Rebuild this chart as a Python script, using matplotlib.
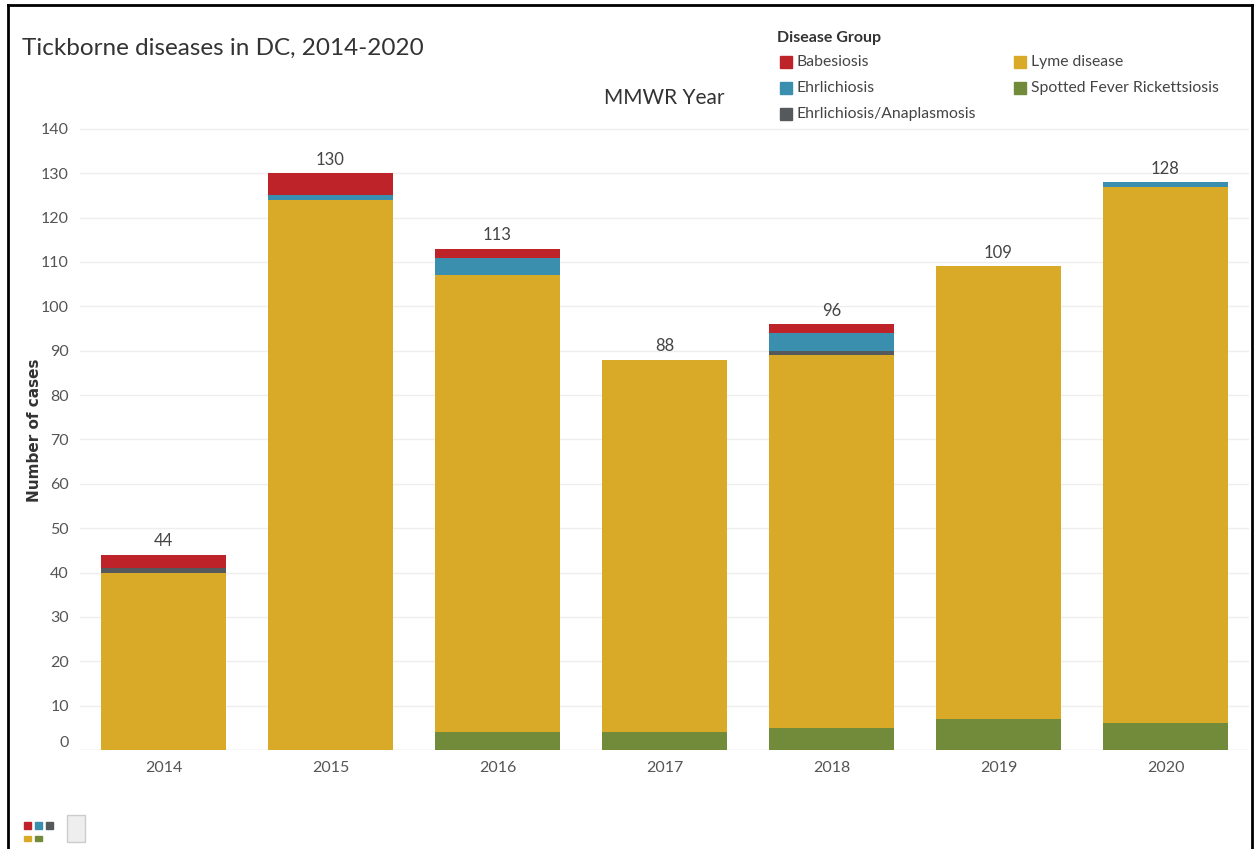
import numpy as np
import matplotlib.pyplot as plt
from matplotlib.patches import Rectangle

plt.rcParams['font.family'] = ['Lato', 'DejaVu Sans']

years = ["2014", "2015", "2016", "2017", "2018", "2019", "2020"]
spotted = [0, 0, 4, 4, 5, 7, 6]
lyme = [40, 124, 103, 84, 84, 102, 121]
ehr_ana = [1, 0, 0, 0, 1, 0, 0]
ehrlichiosis = [0, 1, 4, 0, 4, 0, 1]
babesiosis = [3, 5, 2, 0, 2, 0, 0]

colors = {
    "Babesiosis": "#BE2329",
    "Ehrlichiosis": "#3A8FAF",
    "Ehrlichiosis/Anaplasmosis": "#55595C",
    "Lyme disease": "#D9AA28",
    "Spotted Fever Rickettsiosis": "#718B3A",
}
stack = [
    ("Spotted Fever Rickettsiosis", spotted),
    ("Lyme disease", lyme),
    ("Ehrlichiosis/Anaplasmosis", ehr_ana),
    ("Ehrlichiosis", ehrlichiosis),
    ("Babesiosis", babesiosis),
]

W, H = 1257, 849
fig = plt.figure(figsize=(W / 100, H / 100), dpi=100)
ax = fig.add_axes([80 / W, 1 - 750 / H, (1249 - 80) / W, (750 - 120) / H])

x = np.arange(len(years))
bottom = np.zeros(len(years))
for name, vals in stack:
    vals = np.array(vals, dtype=float)
    ax.bar(x, vals, 0.75, bottom=bottom, color=colors[name], edgecolor="none", zorder=2)
    bottom += vals

for xi, tot in zip(x, bottom):
    ax.text(xi, tot + 1.2, f"{int(tot)}", ha="center", va="bottom", fontsize=12, color="#444444")

ax.set_xlim(-0.5, len(years) - 0.5)
ax.set_ylim(0, 142)
ax.set_yticks(np.arange(0, 141, 10))
ax.set_yticklabels([str(v) for v in range(0, 141, 10)], fontsize=11.5, color="#555555")
ax.get_yticklabels()[0].set_va("bottom")
ax.set_xticks(x)
ax.set_xticklabels(years, fontsize=11.5, color="#555555")
ax.tick_params(length=0, pad=8)
ax.grid(axis="y", color="#EEEEEE", linewidth=1, zorder=0)
for s in ax.spines.values():
    s.set_visible(False)
ax.axhline(0, color="#E8E8E8", linewidth=1, zorder=1)

fig.text(35 / W, 1 - 430 / H, "Number of cases", fontsize=11, fontweight="bold", color="#333333",
         rotation=90, ha="center", va="center", family="DejaVu Sans")
fig.text(22 / W, 1 - 48 / H, "Tickborne diseases in DC, 2014-2020", fontsize=17.5, color="#333333",
         va="center", ha="left")
fig.text(664 / W, 1 - 98 / H, "MMWR Year", fontsize=15, color="#333333", va="center", ha="center")

# legend
fig.text(777 / W, 1 - 38 / H, "Disease Group", fontsize=11.5, fontweight="bold", color="#333333",
         va="center")
leg_items = [
    ("Babesiosis", 780, 62), ("Ehrlichiosis", 780, 88), ("Ehrlichiosis/Anaplasmosis", 780, 114),
    ("Lyme disease", 1014, 62), ("Spotted Fever Rickettsiosis", 1014, 88),
]
for name, lx, ly in leg_items:
    fig.patches.append(Rectangle((lx / W, 1 - (ly + 6) / H), 12 / W, 12 / H, transform=fig.transFigure,
                                 color=colors[name]))
    fig.text((lx + 17) / W, 1 - ly / H, name, fontsize=11.3, color="#444444", va="center")

# small icons bottom-left
icon_cols = ["Babesiosis", "Ehrlichiosis", "Ehrlichiosis/Anaplasmosis"]
for i, name in enumerate(icon_cols):
    fig.patches.append(Rectangle(((24 + i * 11) / W, 1 - 829 / H), 7 / W, 7 / H, transform=fig.transFigure,
                                 color=colors[name]))
for i, name in enumerate(["Lyme disease", "Spotted Fever Rickettsiosis"]):
    fig.patches.append(Rectangle(((24 + i * 11) / W, 1 - 841 / H), 7 / W, 5 / H, transform=fig.transFigure,
                                 color=colors[name]))
fig.patches.append(Rectangle((67 / W, 1 - 842 / H), 18 / W, 27 / H, transform=fig.transFigure,
                             facecolor="#EEEEEE", edgecolor="#CCCCCC", linewidth=1))

# outer border (left, top, right)
fig.add_artist(plt.Line2D([8 / W, 8 / W], [0, 1 - 5 / H], color="black", linewidth=2))
fig.add_artist(plt.Line2D([8 / W, 1252 / W], [1 - 5 / H, 1 - 5 / H], color="black", linewidth=2))
fig.add_artist(plt.Line2D([1252 / W, 1252 / W], [0, 1 - 5 / H], color="black", linewidth=2))

fig.savefig("out.png", dpi=100)
